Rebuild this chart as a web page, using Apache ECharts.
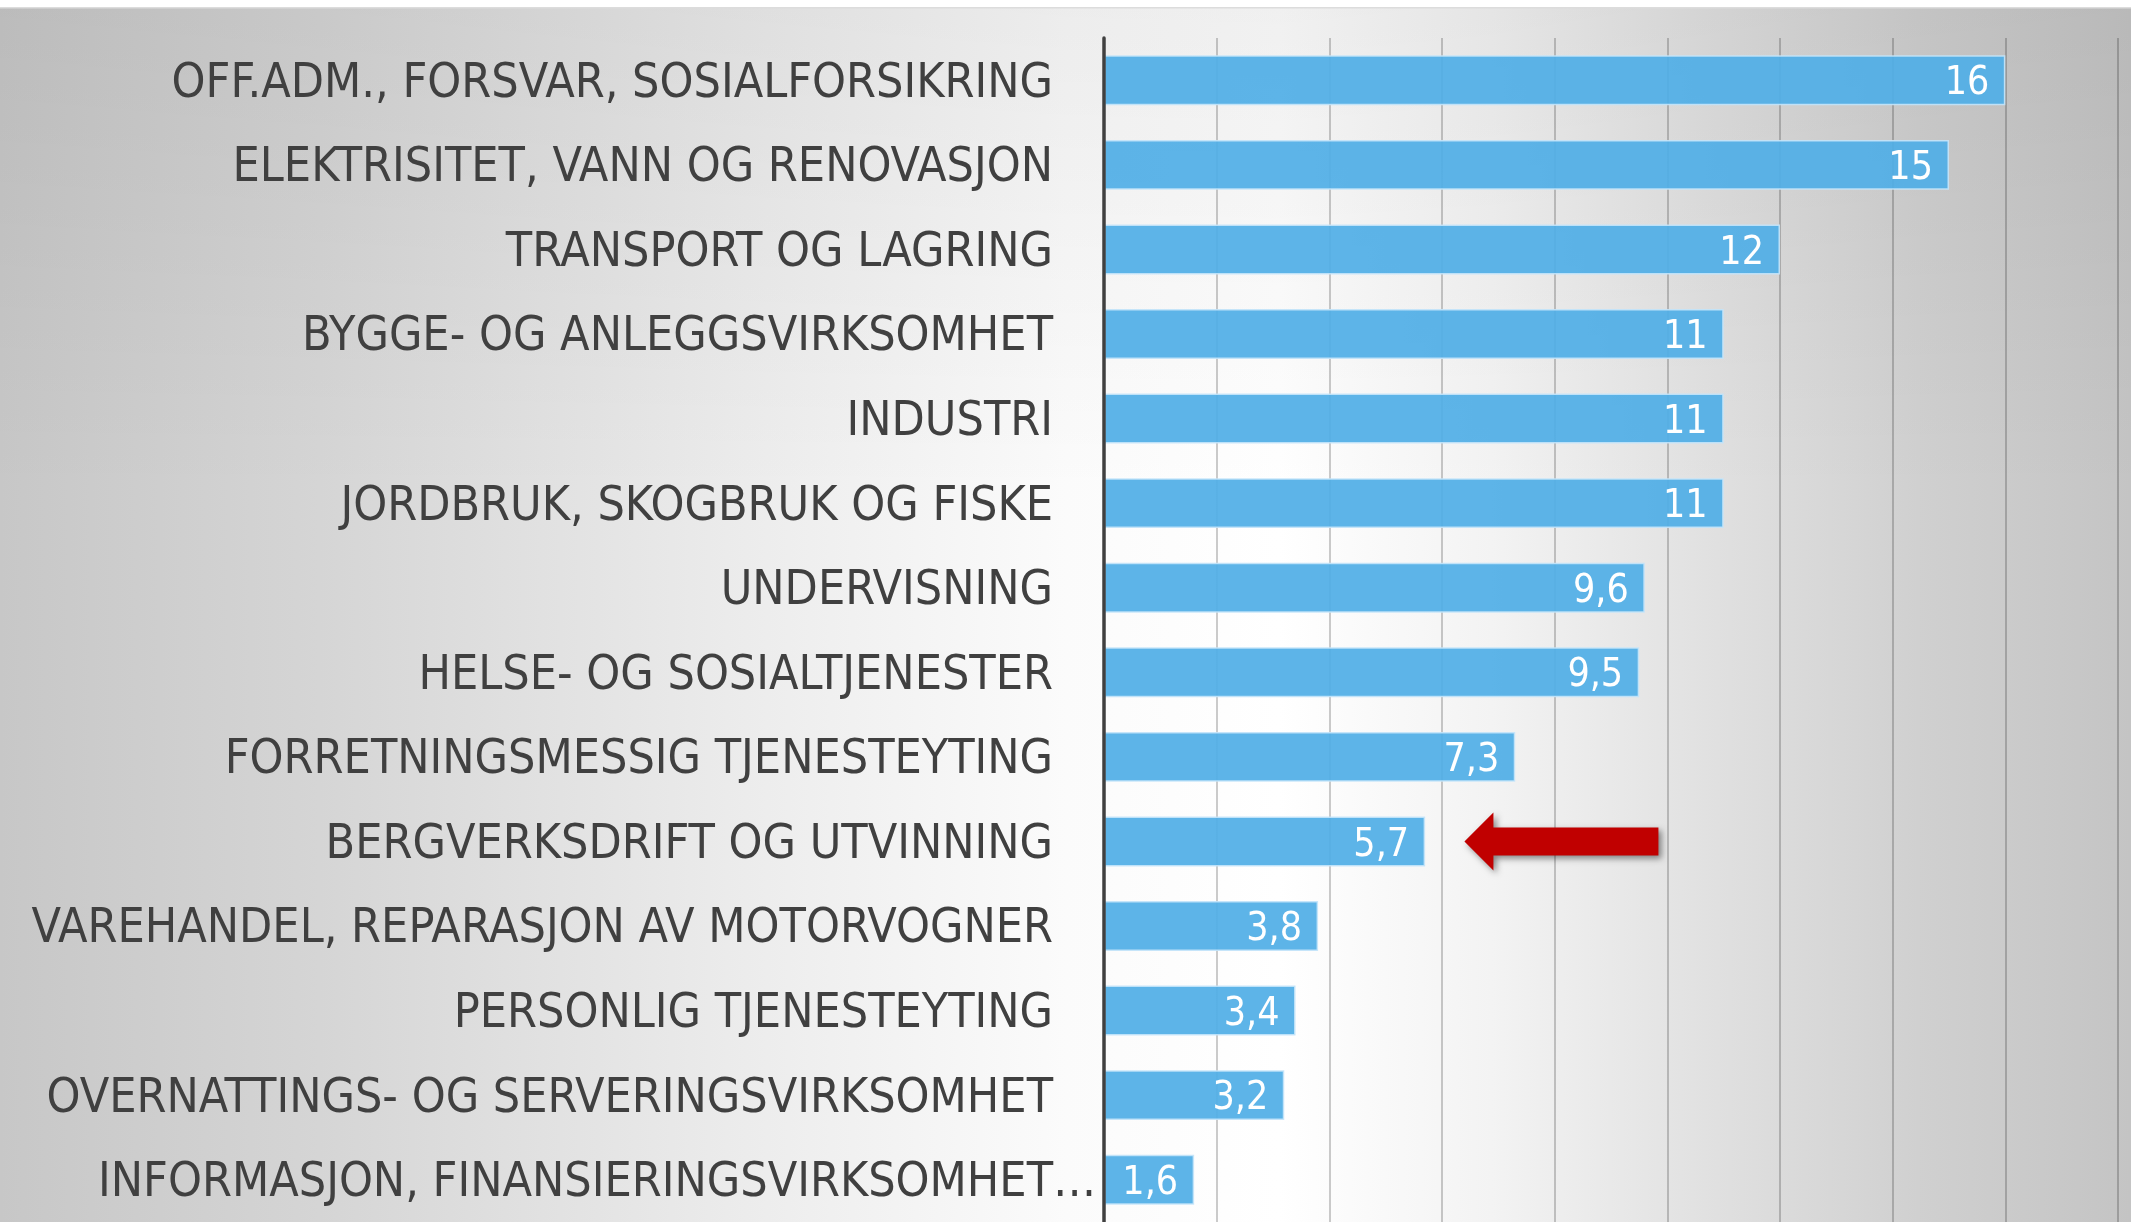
<!DOCTYPE html>
<html>
<head>
<meta charset="utf-8">
<script src="https://cdn.jsdelivr.net/npm/echarts@6/dist/echarts.min.js"></script>
<style>
	html, body { margin: 0; padding: 0; background: #fff; }
	#chart { width: 2131px; height: 1222px; }
</style>
</head>
<body>
<div id="chart"></div>
<script>
// næringer, sortert ovenfra og ned
var categories = [
	'OFF.ADM., FORSVAR, SOSIALFORSIKRING',
	'ELEKTRISITET, VANN OG RENOVASJON',
	'TRANSPORT OG LAGRING',
	'BYGGE- OG ANLEGGSVIRKSOMHET',
	'INDUSTRI',
	'JORDBRUK, SKOGBRUK OG FISKE',
	'UNDERVISNING',
	'HELSE- OG SOSIALTJENESTER',
	'FORRETNINGSMESSIG TJENESTEYTING',
	'BERGVERKSDRIFT OG UTVINNING',
	'VAREHANDEL, REPARASJON AV MOTORVOGNER',
	'PERSONLIG TJENESTEYTING',
	'OVERNATTINGS- OG SERVERINGSVIRKSOMHET',
	'INFORMASJON, FINANSIERINGSVIRKSOMHET…'
];
var values = [16, 15, 12, 11, 11, 11, 9.6, 9.5, 7.3, 5.7, 3.8, 3.4, 3.2, 1.6];
var xTicks = [0, 18, 2]; // min, max, intervall
var arrowAt = ['BERGVERKSDRIFT OG UTVINNING', 8.12];

var fontFam = '"Liberation Sans Narrow", "DejaVu Sans Condensed", sans-serif';

var myChart = echarts.init(document.getElementById('chart'));

var option = {
	backgroundColor: '#ffffff',
	animation: false,
	graphic: [{
		type: 'rect',
		z: -10,
		silent: true,
		shape: { x: 0, y: 8, width: 2131, height: 1214 },
		style: {
			fill: new echarts.graphic.LinearGradient(0, 0, 1, 0, [
				{ offset: 0, color: '#c7c7c7' },
				{ offset: 0.15, color: '#d5d5d5' },
				{ offset: 0.35, color: '#ececec' },
				{ offset: 0.5, color: '#fbfbfb' },
				{ offset: 0.6, color: '#ffffff' },
				{ offset: 0.7, color: '#f3f3f3' },
				{ offset: 0.8, color: '#e1e1e1' },
				{ offset: 0.9, color: '#d0d0d0' },
				{ offset: 1, color: '#c4c4c4' }
			])
		}
	}, {
		type: 'rect',
		z: -9,
		silent: true,
		shape: { x: 0, y: 8, width: 2131, height: 1214 },
		style: {
			fill: new echarts.graphic.LinearGradient(0, 0, 0, 1, [
				{ offset: 0, color: 'rgba(0,0,0,0.06)' },
				{ offset: 0.4, color: 'rgba(0,0,0,0)' },
				{ offset: 1, color: 'rgba(0,0,0,0)' }
			])
		}
	}, {
		type: 'rect',
		z: -8,
		silent: true,
		shape: { x: 0, y: 7, width: 2131, height: 1.5 },
		style: { fill: '#dcdcdc' }
	}],
	grid: {
		left: 1104,
		right: 13,
		top: 38,
		bottom: 0,
		containLabel: false,
		outerBoundsMode: 'none'
	},
	xAxis: {
		type: 'value',
		min: xTicks[0],
		max: xTicks[1],
		interval: xTicks[2],
		axisLine: { show: false },
		axisTick: { show: false },
		axisLabel: { show: false },
		splitLine: {
			show: true,
			lineStyle: { color: 'rgba(0,0,0,0.27)', width: 1.5 }
		}
	},
	yAxis: {
		type: 'category',
		inverse: true,
		data: categories,
		z: 5,
		axisLine: {
			show: true,
			lineStyle: { color: '#404040', width: 3.5 }
		},
		axisTick: { show: false },
		axisLabel: {
			interval: 0,
			margin: 51,
			color: '#404040',
			fontFamily: fontFam,
			fontSize: 48,
			padding: [8, 0, 0, 0],
			formatter: function(v) {
				// siste etikett er avkuttet med "…" som stikker ut til høyre
				if (v.slice(-1) == '…') {
					return '{a|' + v.slice(0, -1) + '}{b|…}';
				}
				return v;
			},
			rich: {
				a: { align: 'left', color: '#404040', fontFamily: fontFam, fontSize: 48 },
				b: { align: 'left', width: 0, color: '#404040', fontFamily: fontFam, fontSize: 48 }
			}
		}
	},
	series: [{
		type: 'bar',
		data: values,
		barCategoryGap: '41%',
		itemStyle: {
			color: 'rgba(81,174,230,0.93)',
			borderColor: 'rgba(196,228,250,0.9)',
			borderWidth: 1.5
		},
		label: {
			show: true,
			position: 'insideRight',
			distance: 16,
			offset: [0, 4],
			color: '#ffffff',
			fontFamily: fontFam,
			fontSize: 39,
			formatter: function(p) {
				return String(p.value).replace('.', ',');
			}
		},
		markPoint: {
			silent: true,
			symbol: 'path://M0,29L29,0L29,15L194,15L194,43L29,43L29,58Z',
			symbolSize: [194, 58],
			label: { show: false },
			itemStyle: {
				color: '#c00000',
				shadowColor: 'rgba(0,0,0,0.45)',
				shadowBlur: 6,
				shadowOffsetX: 3,
				shadowOffsetY: 3
			},
			data: [{ coord: [arrowAt[1], arrowAt[0]] }]
		}
	}]
};

myChart.setOption(option);
window.addEventListener("resize", function() {
	myChart.resize();
});
</script>
</body>
</html>
